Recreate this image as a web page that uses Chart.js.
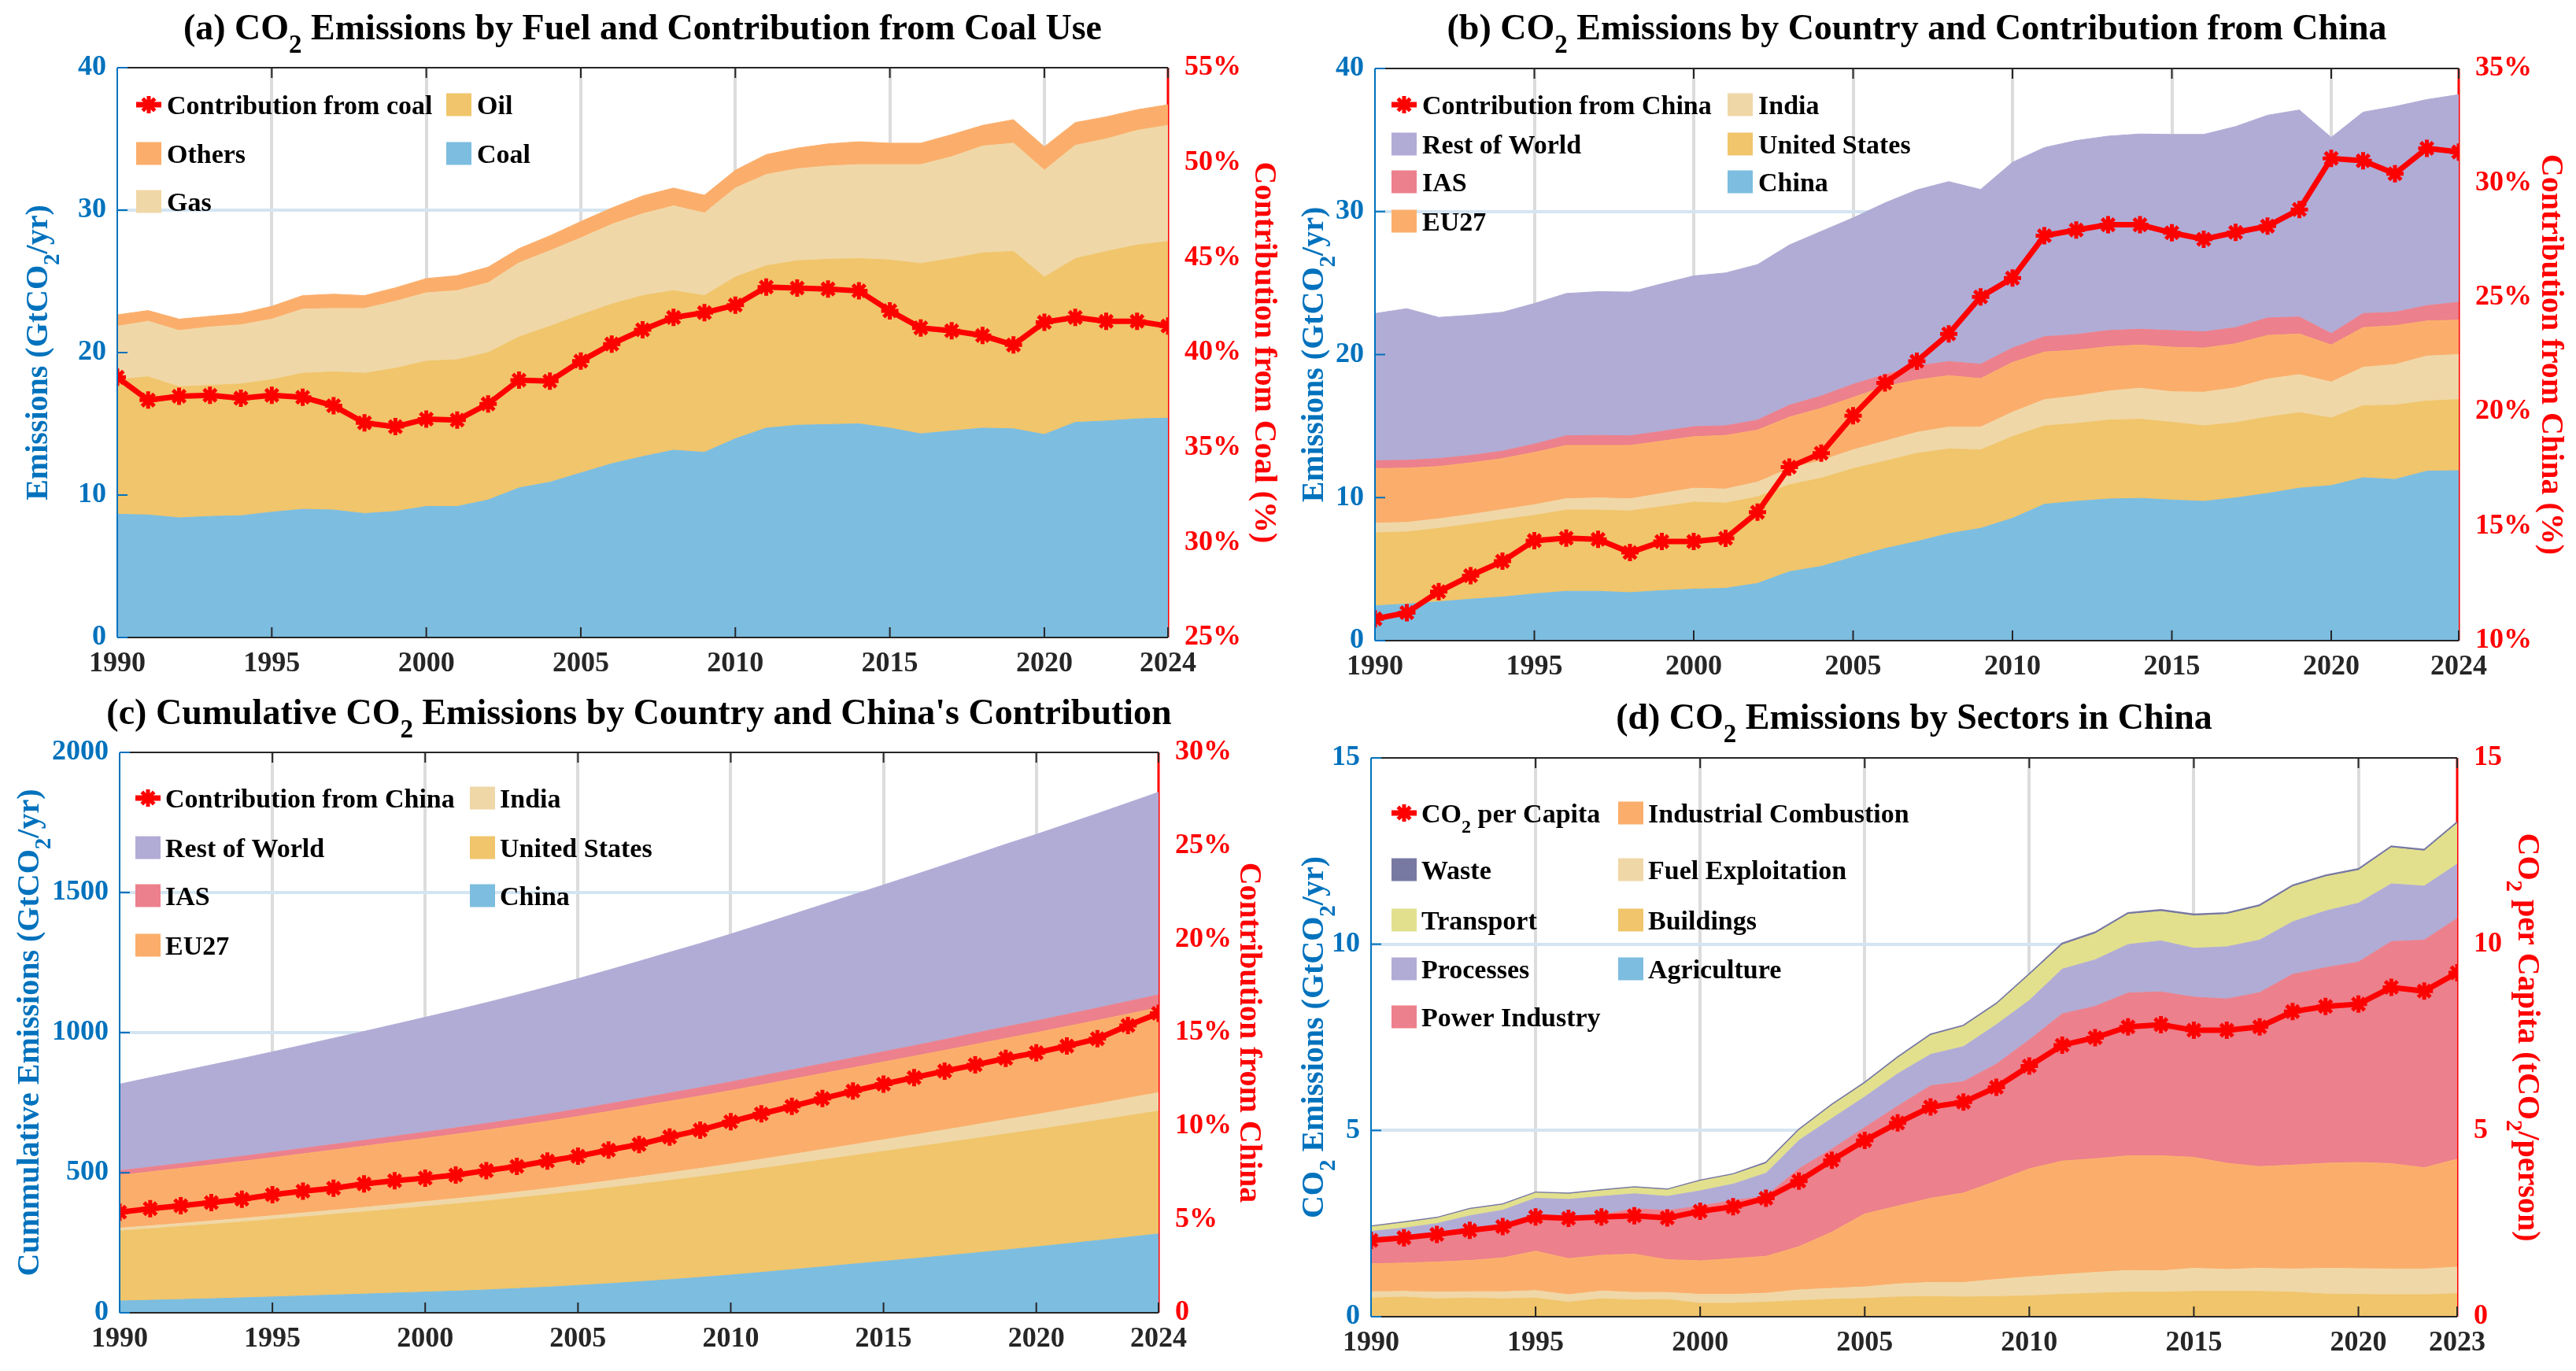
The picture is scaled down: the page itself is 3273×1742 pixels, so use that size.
<!DOCTYPE html>
<html>
<head>
<meta charset="utf-8">
<title>CO2 Emissions</title>
<script src="https://cdn.jsdelivr.net/npm/chart.js@4.4.1/dist/chart.umd.min.js"></script>
<style>
html,body{margin:0;padding:0;background:#ffffff;}
body{width:3273px;height:1742px;position:relative;overflow:hidden;}
canvas{position:absolute;display:block;}
</style>
</head>
<body>
<canvas id="chartA" width="1636" height="871" style="left:0px;top:0px;"></canvas>
<canvas id="chartB" width="1637" height="871" style="left:1636px;top:0px;"></canvas>
<canvas id="chartC" width="1636" height="871" style="left:0px;top:871px;"></canvas>
<canvas id="chartD" width="1637" height="871" style="left:1636px;top:871px;"></canvas>
<script>
// ---------------- DATA ----------------
const years = [1990,1991,1992,1993,1994,1995,1996,1997,1998,1999,2000,2001,2002,2003,2004,2005,2006,2007,2008,2009,2010,2011,2012,2013,2014,2015,2016,2017,2018,2019,2020,2021,2022,2023,2024];
const yearsD = [1990,1991,1992,1993,1994,1995,1996,1997,1998,1999,2000,2001,2002,2003,2004,2005,2006,2007,2008,2009,2010,2011,2012,2013,2014,2015,2016,2017,2018,2019,2020,2021,2022,2023];
const xTicks = [1990,1995,2000,2005,2010,2015,2020,2024];
const xTicksD = [1990,1995,2000,2005,2010,2015,2020,2023];

// (a) CO2 emissions by fuel (GtCO2/yr)
const coal   = [8.65,8.6,8.4,8.5,8.55,8.8,9.0,8.95,8.7,8.85,9.2,9.2,9.65,10.5,10.9,11.55,12.2,12.7,13.15,13.0,13.95,14.7,14.9,14.95,15.0,14.7,14.3,14.5,14.7,14.65,14.25,15.1,15.2,15.35,15.4];
const oil    = [9.45,9.7,9.2,9.2,9.25,9.3,9.55,9.7,9.85,10.05,10.2,10.3,10.35,10.6,10.95,11.1,11.2,11.3,11.2,11.0,11.35,11.4,11.55,11.6,11.6,11.8,11.95,12.1,12.3,12.45,11.05,11.5,11.9,12.2,12.4];
const gas    = [3.75,3.9,3.95,4.1,4.15,4.25,4.5,4.45,4.55,4.7,4.8,4.85,4.9,5.2,5.3,5.4,5.6,5.75,5.95,5.8,6.25,6.4,6.45,6.55,6.6,6.7,6.95,7.15,7.5,7.6,7.5,7.95,7.9,8.05,8.15];
const others = [0.8,0.75,0.8,0.75,0.8,0.9,0.95,1.0,0.9,0.95,1.0,1.05,1.1,1.0,1.05,1.15,1.15,1.25,1.25,1.25,1.25,1.4,1.45,1.55,1.6,1.5,1.5,1.55,1.45,1.65,1.65,1.6,1.55,1.45,1.45];
const coalShare = [38.7,37.5,37.7,37.75,37.6,37.75,37.65,37.2,36.3,36.1,36.5,36.45,37.3,38.55,38.5,39.55,40.45,41.2,41.85,42.1,42.5,43.45,43.4,43.35,43.25,42.2,41.3,41.15,40.9,40.4,41.6,41.85,41.65,41.65,41.4];
const leftTicksA = [0,10,20,30,40];
const rightTicksA = [25,30,35,40,45,50,55];

// (b) CO2 emissions by country (GtCO2/yr)
const china  = [2.44,2.56,2.72,2.90,3.05,3.27,3.45,3.45,3.36,3.50,3.60,3.66,4.00,4.82,5.19,5.83,6.44,6.93,7.48,7.85,8.55,9.53,9.74,9.90,9.95,9.83,9.74,9.98,10.29,10.66,10.84,11.39,11.27,11.85,11.88];
const usa    = [5.10,5.04,5.13,5.25,5.41,5.49,5.68,5.68,5.71,5.87,6.08,5.96,6.05,6.08,6.17,6.20,6.11,6.17,5.92,5.49,5.71,5.49,5.44,5.52,5.53,5.44,5.28,5.26,5.34,5.28,4.73,5.04,5.19,4.91,4.97];
const india  = [0.67,0.67,0.67,0.67,0.70,0.74,0.79,0.85,0.85,0.92,0.98,0.98,1.03,1.13,1.22,1.31,1.40,1.46,1.53,1.59,1.71,1.83,1.92,2.02,2.17,2.13,2.35,2.44,2.66,2.66,2.51,2.68,2.84,3.14,3.15];
const eu27   = [3.82,3.79,3.66,3.61,3.57,3.66,3.73,3.67,3.73,3.66,3.60,3.75,3.64,3.60,3.66,3.66,3.82,3.67,3.60,3.39,3.48,3.33,3.21,3.11,3.02,3.12,3.09,3.08,3.05,2.84,2.59,2.78,2.72,2.45,2.41];
const ias    = [0.55,0.55,0.55,0.52,0.52,0.58,0.67,0.70,0.67,0.68,0.70,0.67,0.70,0.83,0.86,0.92,0.83,0.97,0.98,1.01,1.01,1.07,1.09,1.13,1.10,1.16,1.13,1.13,1.22,1.19,0.80,0.98,0.94,1.07,1.25];
const restOfWorld = [10.29,10.60,9.87,9.80,9.71,9.83,9.95,10.05,10.05,10.32,10.54,10.69,10.87,11.20,11.51,11.64,12.00,12.31,12.58,12.21,12.98,13.22,13.56,13.59,13.65,13.71,13.80,14.05,14.17,14.47,13.71,14.08,14.38,14.41,14.51];
const chinaShare = [10.95,11.22,12.14,12.84,13.47,14.37,14.48,14.43,13.85,14.33,14.33,14.47,15.61,17.58,18.19,19.83,21.26,22.21,23.4,25.02,25.84,27.69,27.94,28.17,28.17,27.82,27.54,27.84,28.11,28.84,31.07,30.97,30.4,31.51,31.35];
const leftTicksB = [0,10,20,30,40];
const rightTicksB = [10,15,20,25,30,35];

// (c) Cumulative CO2 emissions by country (GtCO2)
const chinaCum = [42.0,44.6,47.3,50.2,53.2,56.5,60.0,63.4,66.8,70.3,73.9,77.5,81.5,86.4,91.5,97.4,103.8,110.7,118.2,126.1,134.6,144.1,153.9,163.8,173.7,183.5,193.3,203.3,213.5,224.2,235.0,246.4,257.7,269.6,281.4];
const usaCum   = [250.0,255.0,260.2,265.4,270.8,276.3,282.0,287.7,293.4,299.3,305.3,311.3,317.4,323.4,329.6,335.8,341.9,348.1,354.0,359.5,365.2,370.7,376.1,381.7,387.2,392.6,397.9,403.2,408.5,413.8,418.5,423.6,428.7,433.7,438.6];
const indiaCum = [10.0,10.7,11.3,12.0,12.7,13.5,14.2,15.1,15.9,16.9,17.8,18.8,19.9,21.0,22.2,23.5,24.9,26.4,27.9,29.5,31.2,33.0,35.0,37.0,39.1,41.3,43.6,46.1,48.7,51.4,53.9,56.6,59.4,62.6,65.7];
const eu27Cum  = [189.0,192.8,196.5,200.1,203.6,207.3,211.0,214.7,218.4,222.1,225.7,229.4,233.1,236.7,240.3,244.0,247.8,251.5,255.1,258.5,262.0,265.3,268.5,271.6,274.6,277.7,280.8,283.9,287.0,289.8,292.4,295.2,297.9,300.3,302.8];
const iasCum   = [16.0,16.6,17.1,17.6,18.1,18.7,19.4,20.1,20.8,21.4,22.1,22.8,23.5,24.3,25.2,26.1,27.0,27.9,28.9,29.9,30.9,32.0,33.1,34.2,35.3,36.5,37.6,38.7,40.0,41.1,41.9,42.9,43.9,44.9,46.2];
const restOfWorldCum = [309.0,319.6,329.5,339.3,349.0,358.8,368.8,378.8,388.9,399.2,409.7,420.4,431.3,442.5,454.0,465.6,477.6,489.9,502.5,514.7,527.7,540.9,554.5,568.1,581.7,595.4,609.2,623.3,637.5,651.9,665.6,679.7,694.1,708.5,723.0];
const chinaCumShare = [5.38,5.57,5.73,5.9,6.08,6.32,6.51,6.67,6.9,7.07,7.21,7.37,7.61,7.84,8.12,8.38,8.71,9.01,9.41,9.78,10.23,10.65,11.05,11.47,11.87,12.24,12.59,12.94,13.27,13.62,13.92,14.28,14.67,15.38,16.03];
const leftTicksC = [0,500,1000,1500,2000];
const rightTicksC = [0,5,10,15,20,25,30];

// (d) China CO2 emissions by sector (GtCO2/yr), 1990-2023
const agriculture = [0.01,0.01,0.01,0.01,0.01,0.01,0.01,0.01,0.01,0.01,0.01,0.01,0.01,0.01,0.01,0.01,0.01,0.01,0.01,0.01,0.01,0.01,0.01,0.01,0.01,0.01,0.01,0.01,0.01,0.01,0.01,0.01,0.01,0.01];
const buildings   = [0.49,0.52,0.47,0.49,0.47,0.49,0.38,0.47,0.44,0.45,0.35,0.35,0.38,0.42,0.46,0.48,0.52,0.53,0.52,0.53,0.55,0.59,0.62,0.65,0.65,0.67,0.67,0.67,0.65,0.60,0.59,0.58,0.58,0.61];
const fuelExploitation = [0.17,0.15,0.18,0.17,0.19,0.20,0.20,0.21,0.20,0.19,0.24,0.24,0.24,0.29,0.29,0.31,0.35,0.38,0.39,0.46,0.51,0.53,0.56,0.58,0.57,0.62,0.59,0.62,0.62,0.69,0.69,0.69,0.69,0.71];
const industrialCombustion = [0.75,0.76,0.81,0.84,0.91,1.06,0.97,0.96,1.03,0.88,0.90,0.96,0.99,1.16,1.51,1.96,2.09,2.26,2.40,2.64,2.90,3.05,3.05,3.08,3.09,2.98,2.85,2.73,2.79,2.82,2.85,2.83,2.72,2.90];
const powerIndustry = [0.59,0.61,0.65,0.76,0.80,0.88,1.03,1.08,1.22,1.32,1.47,1.56,1.62,2.09,2.23,2.32,2.68,3.02,2.99,3.14,3.46,3.95,4.09,4.37,4.40,4.30,4.41,4.67,5.12,5.25,5.38,5.96,6.11,6.46];
const processes = [0.28,0.33,0.38,0.44,0.48,0.54,0.56,0.50,0.40,0.38,0.41,0.44,0.61,0.76,0.82,0.82,0.87,0.84,0.94,1.06,1.06,1.20,1.25,1.30,1.37,1.31,1.40,1.41,1.41,1.52,1.58,1.55,1.45,1.46];
const transport = [0.12,0.14,0.14,0.17,0.14,0.14,0.14,0.15,0.16,0.17,0.26,0.25,0.26,0.27,0.35,0.36,0.42,0.51,0.54,0.54,0.68,0.65,0.70,0.81,0.79,0.87,0.87,0.90,0.94,0.92,0.88,0.97,0.94,1.09];
const waste = [0.02,0.02,0.02,0.02,0.02,0.02,0.02,0.02,0.02,0.02,0.02,0.02,0.03,0.03,0.03,0.03,0.03,0.03,0.03,0.03,0.03,0.04,0.04,0.04,0.04,0.04,0.04,0.04,0.04,0.04,0.04,0.04,0.04,0.04];
const perCapita = [2.05,2.12,2.21,2.32,2.42,2.68,2.64,2.68,2.71,2.65,2.83,2.95,3.18,3.64,4.20,4.73,5.20,5.63,5.76,6.16,6.73,7.29,7.49,7.78,7.84,7.69,7.69,7.78,8.19,8.33,8.39,8.84,8.74,9.23];
const leftTicksD = [0,5,10,15];
const rightTicksD = [0,5,10,15];

// ---------------- STYLE ----------------
const FONT = '"Liberation Serif","Times New Roman",Times,serif';
const RED = '#FF0000', BLUE = '#0072BD', DARK = '#262626';
const C_BLUE = '#7CBDE0', C_OIL = '#F0C56B', C_GAS = '#F0D7A7', C_ORANGE = '#FBAE6B',
      C_PINK = '#EC808C', C_PURPLE = '#B1ACD5', C_TRANSPORT = '#E2E08D', C_WASTE = '#7879A3';
const GRID_V = '#DCDCDC', GRID_H = '#D4E5F2';

function parseRich(s) {
  const parts = []; const re = /_(\d)/g; let last = 0, m;
  while ((m = re.exec(s))) {
    if (m.index > last) parts.push([s.slice(last, m.index), false]);
    parts.push([m[1], true]); last = re.lastIndex;
  }
  if (last < s.length) parts.push([s.slice(last), false]);
  return parts;
}
function drawRich(ctx, s, x, y, size, color, align) {
  const parts = parseRich(s);
  const sub = Math.round(size * 0.72);
  let w = 0;
  for (const p of parts) { ctx.font = 'bold ' + (p[1] ? sub : size) + 'px ' + FONT; w += ctx.measureText(p[0]).width; }
  let cx = align === 'center' ? x - w / 2 : (align === 'right' ? x - w : x);
  ctx.fillStyle = color; ctx.textAlign = 'left'; ctx.textBaseline = 'alphabetic';
  for (const p of parts) {
    ctx.font = 'bold ' + (p[1] ? sub : size) + 'px ' + FONT;
    ctx.fillText(p[0], cx, y + (p[1] ? size * 0.38 : 0));
    cx += ctx.measureText(p[0]).width;
  }
}
function drawStar(ctx, x, y, r) {
  ctx.beginPath();
  ctx.moveTo(x - r, y); ctx.lineTo(x + r, y);
  ctx.moveTo(x, y - r); ctx.lineTo(x, y + r);
  const d = r * Math.SQRT1_2;
  ctx.moveTo(x - d, y - d); ctx.lineTo(x + d, y + d);
  ctx.moveTo(x - d, y + d); ctx.lineTo(x + d, y - d);
  ctx.stroke();
}

const decor = {
  id: 'decor',
  beforeDatasetsDraw(chart) {
    const { ctx, chartArea: a } = chart; const y1 = chart.scales.y1;
    ctx.save();
    ctx.strokeStyle = RED; ctx.lineWidth = 3;
    ctx.beginPath(); ctx.moveTo(a.right, a.top); ctx.lineTo(a.right, a.bottom); ctx.stroke();
    ctx.lineWidth = 2;
    y1.ticks.forEach(t => { const py = y1.getPixelForValue(t.value); ctx.beginPath(); ctx.moveTo(a.right, py); ctx.lineTo(a.right - 13, py); ctx.stroke(); });
    ctx.restore();
  },
  afterDatasetsDraw(chart, args, o) {
    const { ctx, chartArea: a } = chart; const xs = chart.scales.x, ys = chart.scales.y;
    ctx.save();
    ctx.strokeStyle = DARK; ctx.lineWidth = 2;
    ctx.beginPath(); ctx.moveTo(a.left, a.top); ctx.lineTo(a.right, a.top);
    ctx.moveTo(a.left, a.bottom); ctx.lineTo(a.right, a.bottom); ctx.stroke();
    xs.ticks.forEach(t => {
      const px = xs.getPixelForValue(t.value);
      ctx.beginPath(); ctx.moveTo(px, a.top); ctx.lineTo(px, a.top + 13);
      ctx.moveTo(px, a.bottom); ctx.lineTo(px, a.bottom - 13); ctx.stroke();
    });
    ctx.strokeStyle = BLUE;
    ctx.beginPath(); ctx.moveTo(a.left, a.top); ctx.lineTo(a.left, a.bottom); ctx.stroke();
    ys.ticks.forEach(t => { const py = ys.getPixelForValue(t.value); ctx.beginPath(); ctx.moveTo(a.left, py); ctx.lineTo(a.left + 13, py); ctx.stroke(); });
    // legend
    const lg = o.legend;
    lg.items.forEach((di, k) => {
      const ds = chart.data.datasets[di];
      const px = lg.cols[k % 2], cy = lg.rows[Math.floor(k / 2)];
      if (ds.yAxisID === 'y1') {
        ctx.strokeStyle = RED; ctx.lineWidth = 7;
        ctx.beginPath(); ctx.moveTo(px, cy); ctx.lineTo(px + 32, cy); ctx.stroke();
        ctx.lineWidth = 5; drawStar(ctx, px + 16, cy, 11);
      } else {
        ctx.fillStyle = ds.backgroundColor; ctx.fillRect(px, cy - 14.5, 32, 29);
      }
      drawRich(ctx, ds.label, px + lg.dx, cy + 12, 34, '#000000', 'left');
    });
    ctx.restore();
  },
  afterDraw(chart, args, o) {
    const { ctx, chartArea: a } = chart;
    const cy = (a.top + a.bottom) / 2;
    ctx.save();
    drawRich(ctx, o.title, (a.left + a.right) / 2, o.titleY, 46, '#000000', 'center');
    ctx.save(); ctx.translate(o.leftX, cy); ctx.rotate(-Math.PI / 2);
    drawRich(ctx, o.leftTitle, 0, 14, 40, BLUE, 'center'); ctx.restore();
    ctx.save(); ctx.translate(o.rightX, cy); ctx.rotate(Math.PI / 2);
    drawRich(ctx, o.rightTitle, 0, 14, 40, RED, 'center'); ctx.restore();
    ctx.restore();
  }
};

function build(id, sp) {
  const datasets = sp.series.map((s, i) => ({
    type: 'line', label: s.label,
    data: sp.years.map((yr, j) => ({ x: yr, y: s.data[j] })),
    backgroundColor: s.color, borderColor: s.border || s.color, borderWidth: s.bw || 1,
    pointRadius: 0, tension: 0, fill: i === 0 ? 'origin' : '-1', yAxisID: 'y', stack: 'areas'
  }));
  datasets.push({
    type: 'line', label: sp.line.label,
    data: sp.years.map((yr, j) => ({ x: yr, y: sp.line.data[j] })),
    borderColor: RED, backgroundColor: RED, borderWidth: 7, tension: 0, fill: false,
    pointStyle: 'star', pointRadius: 11, pointBorderWidth: 5, pointBorderColor: RED, pointBackgroundColor: RED,
    yAxisID: 'y1', order: -1
  });
  const tickFont = { family: FONT, size: 36, weight: 'bold' };
  const xMin = sp.years[0], xMax = sp.years[sp.years.length - 1];
  const yMin = sp.left[0], yMax = sp.left[sp.left.length - 1];
  const rMin = sp.right[0], rMax = sp.right[sp.right.length - 1];
  new Chart(document.getElementById(id), {
    data: { datasets },
    options: {
      responsive: false, animation: false, devicePixelRatio: 1,
      layout: { padding: { top: sp.box.t, left: 0, right: 0, bottom: 0 } },
      plugins: {
        legend: { display: false }, tooltip: { enabled: false }, title: { display: false },
        decor: { legend: sp.legend, title: sp.title, titleY: sp.titleY, leftTitle: sp.leftTitle, rightTitle: sp.rightTitle, leftX: sp.leftX, rightX: sp.rightX }
      },
      scales: {
        x: {
          type: 'linear', min: xMin, max: xMax,
          afterBuildTicks: s => { s.ticks = sp.xTicks.map(v => ({ value: v })); },
          afterFit: s => { s.height = sp.box.h - sp.box.b; },
          ticks: { autoSkip: false, maxRotation: 0, padding: 12, color: DARK, font: tickFont, callback: v => String(v) },
          grid: { drawTicks: false, lineWidth: 4, color: c => (c.tick && (c.tick.value === xMin || c.tick.value === xMax)) ? 'rgba(0,0,0,0)' : GRID_V },
          border: { display: false }
        },
        y: {
          type: 'linear', position: 'left', stacked: true, min: yMin, max: yMax,
          afterBuildTicks: s => { s.ticks = sp.left.map(v => ({ value: v })); },
          afterFit: s => { s.width = sp.box.l; },
          ticks: { padding: 14, color: BLUE, font: tickFont, callback: v => String(v) },
          grid: { drawTicks: false, lineWidth: 4, color: c => (c.tick && (c.tick.value === yMin || c.tick.value === yMax)) ? 'rgba(0,0,0,0)' : GRID_H },
          border: { display: false }
        },
        y1: {
          type: 'linear', position: 'right', min: rMin, max: rMax,
          afterBuildTicks: s => { s.ticks = sp.right.map(v => ({ value: v })); },
          afterFit: s => { s.width = sp.box.w - sp.box.r; },
          ticks: { padding: 13, color: RED, font: tickFont, callback: sp.rightFmt },
          grid: { display: false }, border: { display: false }
        }
      }
    },
    plugins: [decor]
  });
}

build('chartA', {
  years: years, xTicks: xTicks, left: leftTicksA, right: rightTicksA, rightFmt: v => v + '%',
  box: { w: 1636, h: 871, l: 149, r: 1484, t: 86, b: 810 },
  series: [
    { label: 'Coal', data: coal, color: C_BLUE },
    { label: 'Oil', data: oil, color: C_OIL },
    { label: 'Gas', data: gas, color: C_GAS },
    { label: 'Others', data: others, color: C_ORANGE }
  ],
  line: { label: 'Contribution from coal', data: coalShare },
  legend: { cols: [173, 567], rows: [133, 195, 256], dx: 39, items: [4, 1, 3, 0, 2] },
  title: '(a) CO_2 Emissions by Fuel and Contribution from Coal Use', titleY: 50,
  leftTitle: 'Emissions (GtCO_2/yr)', rightTitle: 'Contribution from Coal (%)', leftX: 46, rightX: 1609
});

build('chartB', {
  years: years, xTicks: xTicks, left: leftTicksB, right: rightTicksB, rightFmt: v => v + '%',
  box: { w: 1637, h: 871, l: 111, r: 1488, t: 87, b: 814 },
  series: [
    { label: 'China', data: china, color: C_BLUE },
    { label: 'United States', data: usa, color: C_OIL },
    { label: 'India', data: india, color: C_GAS },
    { label: 'EU27', data: eu27, color: C_ORANGE },
    { label: 'IAS', data: ias, color: C_PINK },
    { label: 'Rest of World', data: restOfWorld, color: C_PURPLE }
  ],
  line: { label: 'Contribution from China', data: chinaShare },
  legend: { cols: [132, 559], rows: [133, 183, 231, 281], dx: 39, items: [6, 2, 5, 1, 4, 0, 3] },
  title: '(b) CO_2 Emissions by Country and Contribution from China', titleY: 50,
  leftTitle: 'Emissions (GtCO_2/yr)', rightTitle: 'Contribution from China (%)', leftX: 31, rightX: 1608
});

build('chartC', {
  years: years, xTicks: xTicks, left: leftTicksC, right: rightTicksC, rightFmt: v => (v === 0 ? '0' : v + '%'),
  box: { w: 1636, h: 871, l: 152, r: 1472, t: 85, b: 797 },
  series: [
    { label: 'China', data: chinaCum, color: C_BLUE },
    { label: 'United States', data: usaCum, color: C_OIL },
    { label: 'India', data: indiaCum, color: C_GAS },
    { label: 'EU27', data: eu27Cum, color: C_ORANGE },
    { label: 'IAS', data: iasCum, color: C_PINK },
    { label: 'Rest of World', data: restOfWorldCum, color: C_PURPLE }
  ],
  line: { label: 'Contribution from China', data: chinaCumShare },
  legend: { cols: [172, 597], rows: [143, 206, 267, 330], dx: 38, items: [6, 2, 5, 1, 4, 0, 3] },
  title: "(c) Cumulative CO_2 Emissions by Country and China's Contribution", titleY: 49,
  leftTitle: 'Cummulative Emissions (GtCO_2/yr)', rightTitle: 'Contribution from China', leftX: 35, rightX: 1590
});

build('chartD', {
  years: yearsD, xTicks: xTicksD, left: leftTicksD, right: rightTicksD, rightFmt: v => String(v),
  box: { w: 1637, h: 871, l: 106, r: 1486, t: 92, b: 802 },
  series: [
    { label: 'Agriculture', data: agriculture, color: C_BLUE },
    { label: 'Buildings', data: buildings, color: C_OIL },
    { label: 'Fuel Exploitation', data: fuelExploitation, color: C_GAS },
    { label: 'Industrial Combustion', data: industrialCombustion, color: C_ORANGE },
    { label: 'Power Industry', data: powerIndustry, color: C_PINK },
    { label: 'Processes', data: processes, color: C_PURPLE },
    { label: 'Transport', data: transport, color: C_TRANSPORT },
    { label: 'Waste', data: waste, color: C_WASTE, border: C_WASTE, bw: 2 }
  ],
  line: { label: 'CO_2 per Capita', data: perCapita },
  legend: { cols: [132, 420], rows: [162, 234, 298, 360, 421], dx: 38, items: [8, 3, 7, 2, 6, 1, 5, 0, 4] },
  title: '(d) CO_2 Emissions by Sectors in China', titleY: 55,
  leftTitle: 'CO_2 Emissions (GtCO_2/yr)', rightTitle: 'CO_2 per Capita (tCO_2/person)', leftX: 31, rightX: 1578
});
</script>
</body>
</html>
